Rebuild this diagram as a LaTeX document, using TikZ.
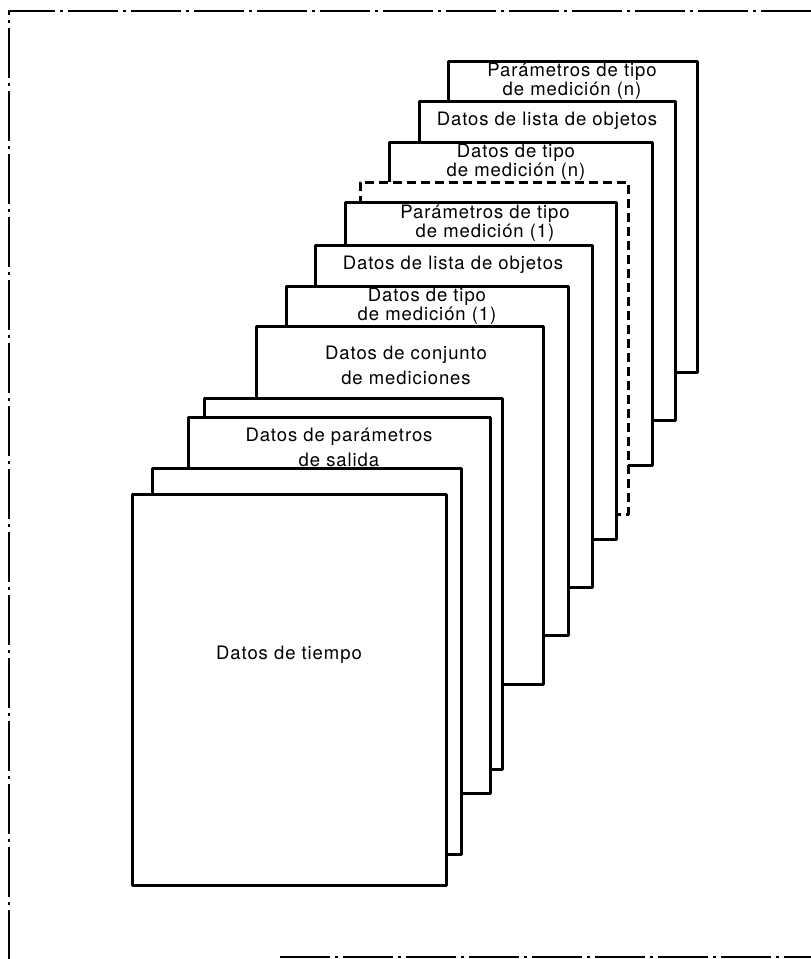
\documentclass[tikz,border=0pt]{standalone}
\usepackage{fontspec}
\setmainfont{TeX Gyre Heros}[LetterSpace=5]
\begin{document}
\begin{tikzpicture}[x=1pt,y=-1pt,
  sheet/.style={draw, fill=white, line width=3pt, line join=round,
    inner sep=0pt, outer sep=0pt},
  hiddensheet/.style={sheet, dashed, dash pattern=on 9pt off 5pt},
  caption/.style={align=center, inner sep=0pt,
    font=\fontsize{18.5}{19.5}\selectfont},
  widecaption/.style={caption, font=\fontsize{18.5}{25}\selectfont},
  frameline/.style={line width=2pt, dash pattern=on 50pt off 5pt on 3pt off 5pt}]
\useasboundingbox (0,0) rectangle (811,959);

% outer dash-dot frame
\draw[frameline] (811,11) -- (9,11) -- (9,959);
\draw[frameline, line width=1.2pt] (280,957) -- (811,957);

% a sheet: name, left, top, right, bottom
\newcommand\papersheet[6][sheet]{%
  \node[#1, minimum width={(#5-#3)*1pt}, minimum height={(#6-#4)*1pt}]
    (#2) at ({(#3+#5)/2},{(#4+#6)/2}) {};}

% stack of records, back to front
\papersheet{pn}{448}{61}{697}{372}
\papersheet{ln}{419}{101}{675}{420}
\papersheet{tn}{389}{142}{652}{465}
\papersheet[hiddensheet]{gap}{360}{182}{628}{514}
\papersheet{p1}{345}{202}{616}{539}
\papersheet{l1}{315}{245}{592}{587}
\papersheet{t1}{286}{286}{568}{635}
\papersheet{cm}{256}{326}{543}{684}
\papersheet{b1}{204}{398}{502}{769}
\papersheet{ps}{188}{417}{490}{793}
\papersheet{b2}{152}{468}{461}{854}
\papersheet{dt}{132}{494}{446}{885}

% labels on the visible strips
\node[caption] (pnlabel) at (572,81) {Parámetros de tipo\\de medición (n)};
\node[caption] (lnlabel) at (547,121) {Datos de lista de objetos};
\node[caption] (tnlabel) at (516,162) {Datos de tipo\\de medición (n)};
\node[caption] (p1label) at (485,223) {Parámetros de tipo\\de medición (1)};
\node[caption] (l1label) at (453,265) {Datos de lista de objetos};
\node[caption] (t1label) at (427,306) {Datos de tipo\\de medición (1)};
\node[widecaption] (cmlabel) at (406,365) {Datos de conjunto\\de mediciones};
\node[widecaption] (pslabel) at (339,447) {Datos de parámetros\\de salida};
\node[caption] (dtlabel) at (289,655) {Datos de tiempo};
\end{tikzpicture}
\end{document}
